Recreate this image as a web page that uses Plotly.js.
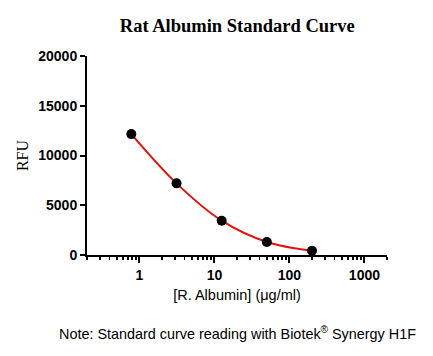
<!DOCTYPE html>
<html>
<head>
<meta charset="utf-8">
<script src="https://cdn.plot.ly/plotly-3.0.1.min.js"></script>
<style>html,body{margin:0;padding:0;background:#fff;}#chart{width:433px;height:356px;}</style>
</head>
<body>
<div id="chart"></div>
<script>
// Concentrations of rat albumin standards (µg/ml)
const concentrations = [0.78, 3.125, 12.5, 50, 200];
// Measured fluorescence (RFU)
const rfu = [12150, 7200, 3450, 1310, 430];
const yTicks = [0, 5000, 10000, 15000, 20000];
const xTicks = [1, 10, 100, 1000];

const traces = [
  {
    x: concentrations, y: rfu, type: 'scatter', mode: 'lines',
    line: {color: '#e0140c', width: 2, shape: 'spline', smoothing: 1},
    hoverinfo: 'skip', cliponaxis: false
  },
  {
    x: concentrations, y: rfu, type: 'scatter', mode: 'markers',
    marker: {color: '#000', size: 10},
    cliponaxis: false
  }
];

const layout = {
  width: 433, height: 356,
  margin: {l: 87, r: 46, t: 56, b: 101},
  paper_bgcolor: '#fff', plot_bgcolor: '#fff',
  showlegend: false,
  title: {
    text: '<b>Rat Albumin Standard Curve</b>',
    font: {family: 'Liberation Serif, Times New Roman, serif', size: 18.5, color: '#000'},
    x: 0.548, xanchor: 'center', y: 0.927, yanchor: 'middle'
  },
  xaxis: {
    type: 'log', range: [Math.log10(0.2), Math.log10(2000)],
    tickvals: xTicks, ticktext: xTicks.map(String),
    ticks: 'outside', ticklen: 6, tickwidth: 2, tickcolor: '#000',
    showline: true, linecolor: '#000', linewidth: 2,
    showgrid: false, zeroline: false,
    tickfont: {family: 'Liberation Sans, Arial, sans-serif', size: 14, color: '#000', weight: 'bold'},
    minor: {ticks: 'outside', ticklen: 3, tickwidth: 1.5, tickcolor: '#000', dtick: 'D1', showgrid: false},
    title: {text: '[R. Albumin] (μg/ml)', font: {family: 'Liberation Sans, Arial, sans-serif', size: 14.5, color: '#000'}, standoff: 8},
    fixedrange: true
  },
  yaxis: {
    range: [0, 20000], tickvals: yTicks, ticktext: yTicks.map(String),
    ticks: 'outside', ticklen: 5, tickwidth: 2, tickcolor: '#000',
    showline: true, linecolor: '#000', linewidth: 2,
    showgrid: false, zeroline: false,
    tickfont: {family: 'Liberation Sans, Arial, sans-serif', size: 14, color: '#000', weight: 'bold'},
    title: {text: 'RFU', font: {family: 'Liberation Serif, Times New Roman, serif', size: 16, color: '#000'}, standoff: 6},
    fixedrange: true
  },
  annotations: [{
    text: 'Note: Standard curve reading with Biotek<sup>®</sup> Synergy H1F',
    xref: 'paper', yref: 'paper', x: 0.5, y: -0.39, xanchor: 'center', yanchor: 'middle',
    showarrow: false,
    font: {family: 'Liberation Sans, Arial, sans-serif', size: 14.4, color: '#000'}
  }]
};

Plotly.newPlot('chart', traces, layout, {displayModeBar: false, staticPlot: true});
</script>
</body>
</html>
